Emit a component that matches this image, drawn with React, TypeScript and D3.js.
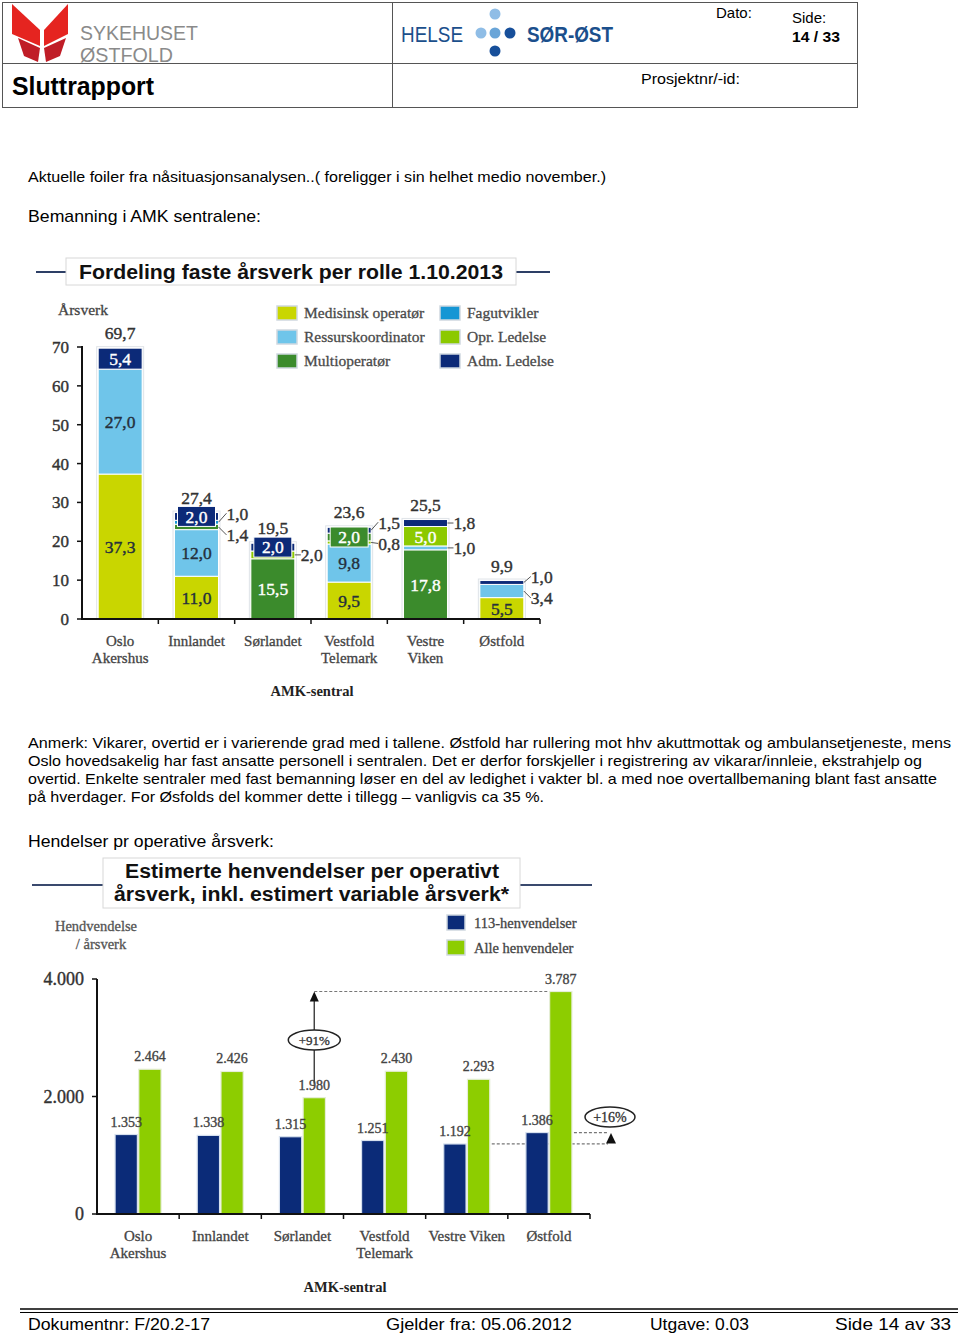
import React from "react";
import * as d3 from "d3";

// ---------- DATA ----------
const categories = ["Oslo Akershus", "Innlandet", "Sørlandet", "Vestfold Telemark", "Vestre Viken", "Østfold"];
const catLines1 = [["Oslo", "Akershus"], ["Innlandet"], ["Sørlandet"], ["Vestfold", "Telemark"], ["Vestre", "Viken"], ["Østfold"]];
const catLines2 = [["Oslo", "Akershus"], ["Innlandet"], ["Sørlandet"], ["Vestfold", "Telemark"], ["Vestre Viken"], ["Østfold"]];

const roleKeys = ["med", "ress", "multi", "fag", "opr", "adm"];
const roleNames = ["Medisinsk operatør", "Ressurskoordinator", "Multioperatør", "Fagutvikler", "Opr. Ledelse", "Adm. Ledelse"];
const roleColors = ["#c9d600", "#6fc5ea", "#3b8b2c", "#1596d4", "#8cc900", "#0c2a78"];

const medisinsk = [37.3, 11.0, 0, 9.5, 0, 5.5];
const ressurs = [27.0, 12.0, 0, 9.8, 1.0, 3.4];
const multioperator = [0, 1.4, 15.5, 2.0, 17.8, 0];
const fagutvikler = [0, 1.0, 0, 0, 0, 0];
const oprLedelse = [0, 0, 2.0, 0.8, 5.0, 0];
const admLedelse = [5.4, 2.0, 2.0, 1.5, 1.8, 1.0];
const totals1 = [69.7, 27.4, 19.5, 23.6, 25.5, 9.9];
const yTicks1 = [0, 10, 20, 30, 40, 50, 60, 70];

// stacking order of the segments in each bar, bottom to top
const stackOrders = [
  ["med", "ress", "adm"],
  ["med", "ress", "multi", "fag", "adm"],
  ["multi", "opr", "adm"],
  ["med", "ress", "opr", "multi", "adm"],
  ["multi", "ress", "opr", "adm"],
  ["med", "ress", "adm"],
];

const henv113 = [1353, 1338, 1315, 1251, 1192, 1386];
const henvAlle = [2464, 2426, 1980, 2430, 2293, 3787];
const yTicks2 = [0, 2000, 4000];

// ---------- LAYOUT (styling of labels) ----------
// inside labels: [catIndex, role, style]
const insideLabels: [number, string, string][] = [
  [0, "med", "dark"], [0, "ress", "dark"], [0, "adm", "white"],
  [1, "med", "dark"], [1, "ress", "dark"], [1, "adm", "box"],
  [2, "multi", "white"], [2, "adm", "box"],
  [3, "med", "dark"], [3, "ress", "dark"], [3, "multi", "box"],
  [4, "multi", "white"], [4, "opr", "white"],
  [5, "med", "dark"],
];
// callouts: [catIndex, role, dx, dy]
const callouts: [number, string, number, number][] = [
  [1, "fag", 7, -9], [1, "multi", 7, 8],
  [2, "opr", 5, 0],
  [3, "adm", 6, -8], [3, "opr", 6, 1],
  [4, "adm", 5, 0], [4, "ress", 5, 0],
  [5, "adm", 6, -6], [5, "ress", 6, 7],
];

const locale = d3.formatLocale({ decimal: ",", thousands: ".", grouping: [3], currency: ["", ""] });
const fmt1 = locale.format(".1f");
const fmtInt = locale.format(",d");

const SERIF = "'Liberation Serif', 'DejaVu Serif', serif";
const SANS = "'Liberation Sans', Arial, sans-serif";
const NARROW = "'Liberation Sans Narrow', 'Liberation Sans', Arial, sans-serif";

// slight thickening of the thin serif to match the scanned look
const thick = (c: string, w = 0.4) => ({ fill: c, stroke: c, strokeWidth: w });

function Header() {
  return (
    <g>
      <rect x={2.5} y={2.5} width={855} height={105} fill="none" stroke="#555" strokeWidth={1} />
      <line x1={2} x2={858} y1={63.5} y2={63.5} stroke="#555" />
      <line x1={392.5} x2={392.5} y1={2} y2={108} stroke="#555" />
      {/* butterfly logo */}
      <path d="M12,4 L40,30 L40,46 L12,34 Z" fill="#e52420" />
      <path d="M68,4 L68,34 L44,46 L44,30 Z" fill="#e52420" />
      <path d="M18,38 L40,48 L38,62 L24,56 Z" fill="#c01d27" />
      <path d="M66,38 L44,48 L46,62 L60,56 Z" fill="#c01d27" />
      <text x={80} y={40} fontFamily={SANS} fontSize={20} fill="#8a8a8a" textLength={118} lengthAdjust="spacingAndGlyphs">SYKEHUSET</text>
      <text x={80} y={62} fontFamily={SANS} fontSize={20} fill="#8a8a8a" textLength={93} lengthAdjust="spacingAndGlyphs">ØSTFOLD</text>
      <text x={12} y={95} fontFamily={SANS} fontSize={25} fontWeight="bold" fill="#000" textLength={142} lengthAdjust="spacingAndGlyphs">Sluttrapport</text>
      {/* Helse Sør-Øst */}
      <text x={401} y={42} fontFamily={SANS} fontSize={22} fill="#1b4f8c" textLength={62} lengthAdjust="spacingAndGlyphs">HELSE</text>
      <circle cx={495} cy={14} r={5.5} fill="#8fbde6" />
      <circle cx={481} cy={33} r={5.5} fill="#8fbde6" />
      <circle cx={495} cy={33} r={5.5} fill="#6aa5d8" />
      <circle cx={510} cy={33} r={5.5} fill="#174f9a" />
      <circle cx={495} cy={51} r={5.5} fill="#174f9a" />
      <text x={527} y={42} fontFamily={SANS} fontSize={22} fontWeight="bold" fill="#1b4f8c" textLength={86} lengthAdjust="spacingAndGlyphs">SØR-ØST</text>
      <text x={716} y={18} fontFamily={SANS} fontSize={15} fill="#000">Dato:</text>
      <text x={792} y={23} fontFamily={SANS} fontSize={15} fill="#000">Side:</text>
      <text x={792} y={42} fontFamily={SANS} fontSize={15} fontWeight="bold" fill="#000" textLength={48} lengthAdjust="spacingAndGlyphs">14 / 33</text>
      <text x={641} y={84} fontFamily={SANS} fontSize={15} fill="#000" textLength={99} lengthAdjust="spacingAndGlyphs">Prosjektnr/-id:</text>
    </g>
  );
}

function Chart1() {
  const roleValues: Record<string, number[]> = {
    med: medisinsk, ress: ressurs, multi: multioperator, fag: fagutvikler, opr: oprLedelse, adm: admLedelse,
  };
  const x = d3.scaleBand().domain(categories).range([82, 540]).paddingInner(0.424).paddingOuter(0.212);
  const y = d3.scaleLinear().domain([0, 70]).range([619, 347]);
  const color = d3.scaleOrdinal<string, string>().domain(roleKeys).range(roleColors);
  const bw = x.bandwidth();

  const segs: Record<string, { y0: number; y1: number }>[] = categories.map((c, i) => {
    const out: Record<string, { y0: number; y1: number }> = {};
    let acc = 0;
    stackOrders[i].forEach((k) => {
      const v = roleValues[k][i];
      out[k] = { y0: acc, y1: acc + v };
      acc += v;
    });
    return out;
  });

  const step = x.step();
  const ticksX = d3.range(1, 7).map((i) => 82 + step * i);

  return (
    <g>
      <line x1={36} x2={66} y1={272} y2={272} stroke="#2d3f66" strokeWidth={2} />
      <line x1={516} x2={550} y1={272} y2={272} stroke="#2d3f66" strokeWidth={2} />
      <rect x={66} y={258} width={450} height={27} fill="#fff" stroke="#d8d8d8" />
      <text x={79} y={279} fontFamily={SANS} fontSize={21} fontWeight="bold" fill="#111" textLength={424} lengthAdjust="spacingAndGlyphs">Fordeling faste årsverk per rolle 1.10.2013</text>

      <text x={58} y={315} fontFamily={SERIF} fontSize={15.5} {...thick("#444", 0.3)}>Årsverk</text>

      {roleKeys.map((k, i) => {
        const col = Math.floor(i / 3);
        const row = i % 3;
        const lx = col === 0 ? 277 : 440;
        const ly = 306 + row * 24;
        return (
          <g key={k}>
            <rect x={lx} y={ly} width={20} height={14} fill={color(k)} stroke="#cfd8e0" strokeWidth={1.5} />
            <text x={lx + 27} y={ly + 12} fontFamily={SERIF} fontSize={15.5} {...thick("#4a4a4a", 0.3)}>{roleNames[i]}</text>
          </g>
        );
      })}

      {categories.map((c, i) => {
        const x0 = x(c)!;
        return (
          <g key={c}>
            <rect x={x0 - 1.5} y={y(totals1[i]) - 1.5} width={bw + 3} height={y(0) - y(totals1[i]) + 1.5} fill="#fff" stroke="#dfe3e8" strokeWidth={1} />
            {stackOrders[i].map((k) => {
              const s = segs[i][k];
              return (
                <rect key={k} x={x0} y={y(s.y1)} width={bw} height={y(s.y0) - y(s.y1)} fill={color(k)} stroke="#fff" strokeWidth={1} />
              );
            })}
          </g>
        );
      })}

      {insideLabels.map(([ci, k, style], j) => {
        const s = segs[ci][k];
        const cx = x(categories[ci])! + bw / 2;
        const cy = y((s.y0 + s.y1) / 2);
        const v = roleValues[k][ci];
        const col = style === "dark" ? "#25303c" : "#fff";
        return (
          <g key={"il" + j}>
            {style === "box" && (
              <rect x={cx - 19} y={cy - 10} width={38} height={20} fill={color(k)} stroke="#fff" strokeWidth={1} />
            )}
            <text x={cx} y={cy} dy="0.36em" textAnchor="middle" fontFamily={SERIF} fontSize={17.5} {...thick(col, 0.4)}>{fmt1(v)}</text>
          </g>
        );
      })}

      {callouts.map(([ci, k, dx, dy], j) => {
        const s = segs[ci][k];
        const bx = x(categories[ci])! + bw;
        const by = y((s.y0 + s.y1) / 2);
        const tx = bx + dx;
        const ty = by + dy;
        return (
          <g key={"co" + j}>
            <line x1={bx} y1={by} x2={tx + 1} y2={ty} stroke="#555" strokeWidth={1} />
            <text x={tx + 1} y={ty} dy="0.36em" fontFamily={SERIF} fontSize={17.5} {...thick("#333", 0.4)}>{fmt1(roleValues[k][ci])}</text>
          </g>
        );
      })}

      {categories.map((c, i) => (
        <text key={"t" + c} x={x(c)! + bw / 2} y={y(totals1[i]) - 9} textAnchor="middle" fontFamily={SERIF} fontSize={17.5} {...thick("#333", 0.4)}>{fmt1(totals1[i])}</text>
      ))}

      <line x1={82} x2={82} y1={619} y2={346} stroke="#111" strokeWidth={2} />
      <line x1={81} x2={540} y1={619} y2={619} stroke="#111" strokeWidth={2} />
      {yTicks1.map((t) => (
        <g key={"yt" + t}>
          <line x1={77} x2={82} y1={y(t)} y2={y(t)} stroke="#111" strokeWidth={1.5} />
          <text x={69} y={y(t)} dy="0.35em" textAnchor="end" fontFamily={SERIF} fontSize={17} {...thick("#333", 0.4)}>{t}</text>
        </g>
      ))}
      {ticksX.map((tx, i) => (
        <line key={"xt" + i} x1={tx} x2={tx} y1={619} y2={624} stroke="#111" strokeWidth={1.5} />
      ))}
      {categories.map((c, i) => (
        <text key={"xl" + c} textAnchor="middle" fontFamily={SERIF} fontSize={15} {...thick("#444", 0.3)}>
          {catLines1[i].map((ln, li) => (
            <tspan key={li} x={x(c)! + bw / 2} y={646 + li * 17}>{ln}</tspan>
          ))}
        </text>
      ))}
      <text x={312} y={696} textAnchor="middle" fontFamily={SERIF} fontSize={14.5} fontWeight="bold" fill="#222">AMK-sentral</text>
    </g>
  );
}

function Chart2() {
  const x = d3.scaleBand().domain(categories).range([97, 590]).paddingInner(0.44).paddingOuter(0.22);
  const sub = d3.scaleBand().domain(["113", "alle"]).range([0, x.bandwidth()]).paddingInner(0.06);
  const y = d3.scaleLinear().domain([0, 4000]).range([1214, 979]);
  const step = x.step();
  const ticksX = d3.range(1, 7).map((i) => 97 + step * i);
  const sbw = sub.bandwidth();
  const navy = "#0b2b78";
  const lime = "#8dcd00";

  const sorX = x(categories[2])! + sub("alle")! + sbw / 2;
  const ostAlleX = x(categories[5])! + sub("alle")!;
  const ostAlleR = ostAlleX + sbw;
  const vvAlleR = x(categories[4])! + sub("alle")! + sbw;
  const yMax = y(henvAlle[5]);

  return (
    <g>
      <line x1={32} x2={103} y1={885} y2={885} stroke="#3a4a6e" strokeWidth={2} />
      <line x1={520} x2={592} y1={885} y2={885} stroke="#3a4a6e" strokeWidth={2} />
      <rect x={103} y={858} width={417} height={50} fill="#fff" stroke="#d8d8d8" />
      <text x={125} y={878} fontFamily={SANS} fontSize={20} fontWeight="bold" fill="#111" textLength={374} lengthAdjust="spacingAndGlyphs">Estimerte henvendelser per operativt</text>
      <text x={114} y={901} fontFamily={SANS} fontSize={20} fontWeight="bold" fill="#111" textLength={395} lengthAdjust="spacingAndGlyphs">årsverk, inkl. estimert variable årsverk*</text>

      <text x={96} y={931} textAnchor="middle" fontFamily={SERIF} fontSize={14.5} {...thick("#555", 0.3)}>Hendvendelse</text>
      <text x={101} y={949} textAnchor="middle" fontFamily={SERIF} fontSize={14.5} {...thick("#555", 0.3)}>/ årsverk</text>

      <rect x={447} y={915} width={18} height={15} fill={navy} stroke="#cfd8e0" strokeWidth={1.5} />
      <text x={474} y={928} fontFamily={SERIF} fontSize={14.5} {...thick("#444", 0.3)}>113-henvendelser</text>
      <rect x={447} y={940} width={18} height={15} fill={lime} stroke="#cfd8e0" strokeWidth={1.5} />
      <text x={474} y={953} fontFamily={SERIF} fontSize={14.5} {...thick("#444", 0.3)}>Alle henvendeler</text>

      <line x1={sorX} x2={ostAlleX} y1={yMax} y2={yMax} stroke="#777" strokeWidth={1.2} strokeDasharray="3,2" />
      <line x1={ostAlleR + 2} x2={608} y1={y(henv113[5])} y2={y(henv113[5])} stroke="#777" strokeWidth={1.2} strokeDasharray="3,2" />
      <line x1={vvAlleR + 2} x2={608} y1={y(henv113[4])} y2={y(henv113[4])} stroke="#777" strokeWidth={1.2} strokeDasharray="3,2" />

      {categories.map((c, i) => {
        const x0 = x(c)!;
        return (
          <g key={c}>
            <rect x={x0 + sub("113")!} y={y(henv113[i])} width={sbw} height={y(0) - y(henv113[i])} fill={navy} stroke="#d6e0ee" strokeWidth={1.2} />
            <rect x={x0 + sub("alle")!} y={y(henvAlle[i])} width={sbw} height={y(0) - y(henvAlle[i])} fill={lime} stroke="#e6eed8" strokeWidth={1.2} />
            <text x={x0 + sub("113")! + sbw / 2} y={y(henv113[i]) - 8} textAnchor="middle" fontFamily={SERIF} fontSize={14} {...thick("#444", 0.35)}>{fmtInt(henv113[i])}</text>
            <text x={x0 + sub("alle")! + sbw / 2} y={y(henvAlle[i]) - 8} textAnchor="middle" fontFamily={SERIF} fontSize={14} {...thick("#444", 0.35)}>{fmtInt(henvAlle[i])}</text>
          </g>
        );
      })}

      <line x1={sorX} x2={sorX} y1={y(henvAlle[2]) - 14} y2={yMax + 8} stroke="#444" strokeWidth={1.5} />
      <path d={`M${sorX - 4.5},${yMax + 10} L${sorX + 4.5},${yMax + 10} L${sorX},${yMax} Z`} fill="#111" />
      <ellipse cx={sorX} cy={1040} rx={26} ry={10} fill="#fff" stroke="#222" strokeWidth={1.5} />
      <text x={sorX} y={1040} dy="0.35em" textAnchor="middle" fontFamily={SERIF} fontSize={13} {...thick("#333", 0.3)}>+91%</text>

      <path d={`M${606},${y(henv113[4]) - 0.5} L${616},${y(henv113[4]) - 0.5} L${611},${y(henv113[5]) + 0.5} Z`} fill="#111" />
      <ellipse cx={610} cy={1117} rx={25} ry={10} fill="#fff" stroke="#222" strokeWidth={1.5} />
      <text x={610} y={1117} dy="0.35em" textAnchor="middle" fontFamily={SERIF} fontSize={14} {...thick("#333", 0.3)}>+16%</text>

      <line x1={97} x2={97} y1={1214} y2={979} stroke="#111" strokeWidth={2} />
      <line x1={96} x2={590} y1={1214} y2={1214} stroke="#111" strokeWidth={2} />
      {yTicks2.map((t) => (
        <g key={"yt" + t}>
          <line x1={92} x2={97} y1={y(t)} y2={y(t)} stroke="#111" strokeWidth={1.5} />
          <text x={84} y={y(t)} dy="0.35em" textAnchor="end" fontFamily={SERIF} fontSize={18} {...thick("#333", 0.4)}>{fmtInt(t)}</text>
        </g>
      ))}
      {ticksX.map((tx, i) => (
        <line key={"xt" + i} x1={tx} x2={tx} y1={1214} y2={1219} stroke="#111" strokeWidth={1.5} />
      ))}
      {categories.map((c, i) => (
        <text key={"xl" + c} textAnchor="middle" fontFamily={SERIF} fontSize={15} {...thick("#444", 0.3)}>
          {catLines2[i].map((ln, li) => (
            <tspan key={li} x={x(c)! + x.bandwidth() / 2} y={1241 + li * 17}>{ln}</tspan>
          ))}
        </text>
      ))}
      <text x={345} y={1292} textAnchor="middle" fontFamily={SERIF} fontSize={14.5} fontWeight="bold" fill="#222">AMK-sentral</text>
    </g>
  );
}

const anmerkLines = [
  "Anmerk: Vikarer, overtid er i varierende grad med i tallene.  Østfold har rullering mot hhv akuttmottak og ambulansetjeneste, mens",
  "Oslo hovedsakelig har fast ansatte personell i sentralen. Det er derfor forskjeller i registrering av vikarar/innleie, ekstrahjelp og",
  "overtid. Enkelte sentraler med fast bemanning løser en del av ledighet i vakter bl. a med noe overtallbemaning blant fast ansatte",
  "på hverdager. For Øsfolds del kommer dette i tillegg – vanligvis ca 35 %.",
];
const anmerkWidths = [923, 894, 909, 516];

export default function App() {
  return (
    <svg width={960} height={1335} style={{ position: "absolute", left: 0, top: 0, background: "#fff" }}>
      <rect x={0} y={0} width={960} height={1335} fill="#fff" />
      <Header />
      <text x={28} y={182} fontFamily={SANS} fontSize={15} fill="#000" textLength={578} lengthAdjust="spacingAndGlyphs">Aktuelle foiler fra nåsituasjonsanalysen..( foreligger i sin helhet medio november.)</text>
      <text x={28} y={222} fontFamily={SANS} fontSize={17} fill="#000" textLength={233} lengthAdjust="spacingAndGlyphs">Bemanning i AMK sentralene:</text>
      <Chart1 />
      {anmerkLines.map((ln, i) => (
        <text key={i} x={28} y={748 + i * 18} fontFamily={SANS} fontSize={15} fill="#000" textLength={anmerkWidths[i]} lengthAdjust="spacingAndGlyphs">{ln}</text>
      ))}
      <text x={28} y={847} fontFamily={SANS} fontSize={17} fill="#000" textLength={246} lengthAdjust="spacingAndGlyphs">Hendelser pr operative årsverk:</text>
      <Chart2 />
      <line x1={20} x2={958} y1={1309} y2={1309} stroke="#000" strokeWidth={1.5} />
      <line x1={20} x2={958} y1={1312.5} y2={1312.5} stroke="#000" strokeWidth={1} />
      <text x={28} y={1330} fontFamily={NARROW} fontSize={17} fill="#000" textLength={182} lengthAdjust="spacingAndGlyphs">Dokumentnr: F/20.2-17</text>
      <text x={386} y={1330} fontFamily={NARROW} fontSize={17} fill="#000" textLength={186} lengthAdjust="spacingAndGlyphs">Gjelder fra:  05.06.2012</text>
      <text x={650} y={1330} fontFamily={NARROW} fontSize={17} fill="#000" textLength={99} lengthAdjust="spacingAndGlyphs">Utgave: 0.03</text>
      <text x={835} y={1330} fontFamily={NARROW} fontSize={17} fill="#000" textLength={116} lengthAdjust="spacingAndGlyphs">Side 14  av  33</text>
    </svg>
  );
}
